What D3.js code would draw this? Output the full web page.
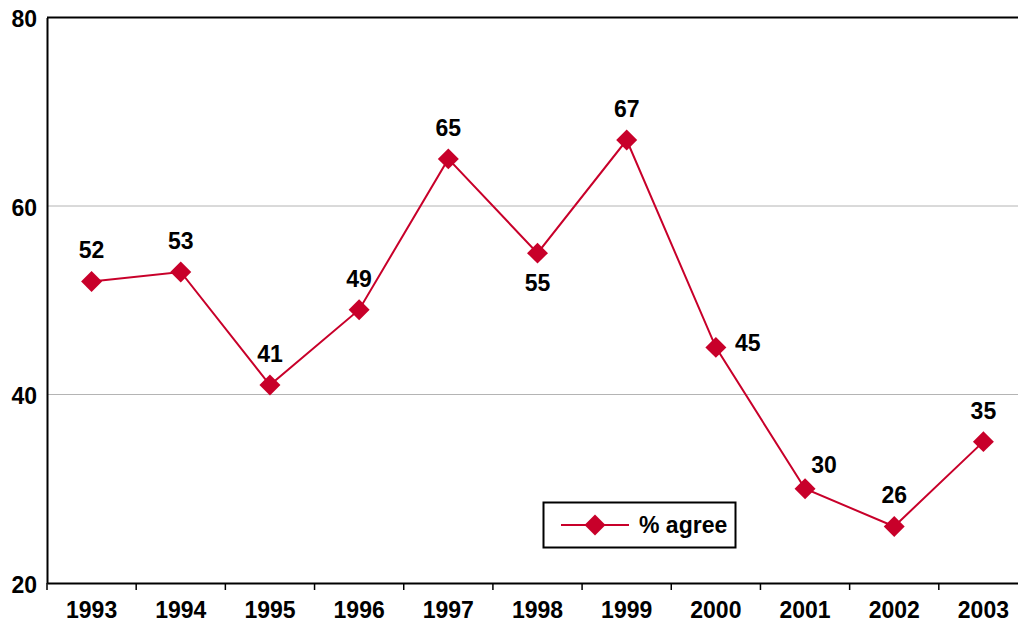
<!DOCTYPE html>
<html><head><meta charset="utf-8">
<script src="https://cdn.jsdelivr.net/npm/d3@7"></script>
<style>body{margin:0;background:#fff;} svg{display:block;font-family:"Liberation Sans",Arial,sans-serif;font-weight:bold;}</style>
</head><body>
<svg id="c" width="1018" height="624"></svg>
<script>
const years = ["1993","1994","1995","1996","1997","1998","1999","2000","2001","2002","2003"];
const agree = [52,53,41,49,65,55,67,45,30,26,35];
const yTicks = [20,40,60,80];
const seriesName = "% agree";
// label placement: 'a' above, 'b' below, 'r' right, 'ar' above-right
const labelPos = ["a","a","a","a","a","b","a","r","ar","a","a"];

const svg = d3.select("#c");
const color = "#c8002a";
const x = d3.scaleBand().domain(years).range([47, 1028]);
const y = d3.scaleLinear().domain([20,80]).range([583, 17.5]);

// gridlines
svg.append("g").selectAll("line").data(yTicks.filter(t=>t>20 && t<80)).join("line")
  .attr("x1",47).attr("x2",1018).attr("y1",d=>y(d)).attr("y2",d=>y(d))
  .attr("stroke","#b4b4b4").attr("stroke-width",1);

// top border
svg.append("line").attr("x1",47).attr("x2",1018).attr("y1",y(80)).attr("y2",y(80))
  .attr("stroke","#000").attr("stroke-width",2);

// y axis
const ya = svg.append("g").attr("transform","translate(47,0)")
  .call(d3.axisLeft(y).tickValues(yTicks).tickSize(0).tickPadding(10));
ya.select(".domain").attr("stroke","#000").attr("stroke-width",2);
ya.selectAll("text").attr("font-size",23).attr("font-family","Liberation Sans, Arial, sans-serif").attr("font-weight","bold").attr("fill","#000").attr("dy","0.4em");

// x axis
const xa = svg.append("g").attr("transform","translate(0,583)")
  .call(d3.axisBottom(x).tickSize(0).tickPadding(19));
xa.select(".domain").attr("stroke","#000").attr("stroke-width",2);
xa.selectAll("text").attr("font-size",23).attr("font-family","Liberation Sans, Arial, sans-serif").attr("font-weight","bold").attr("fill","#000");
// tick marks at band boundaries
const bounds = years.map(d=>x(d)).concat([x(years[years.length-1])+x.bandwidth()]);
svg.append("g").selectAll("line").data(bounds).join("line")
  .attr("x1",d=>d).attr("x2",d=>d).attr("y1",583).attr("y2",590)
  .attr("stroke","#000").attr("stroke-width",1.5);

const cx = d=>x(d)+x.bandwidth()/2;
const line = d3.line().x((d,i)=>cx(years[i])).y(d=>y(d));
svg.append("path").datum(agree).attr("d",line).attr("fill","none")
  .attr("stroke",color).attr("stroke-width",2);

const diamond = d3.symbol().type(d3.symbolSquare).size(220);
svg.append("g").selectAll("path").data(agree).join("path")
  .attr("d",diamond)
  .attr("transform",(d,i)=>`translate(${cx(years[i])},${y(d)}) rotate(45)`)
  .attr("fill",color);

const off = {a:[0,-31],b:[0,30],r:[32,-4],ar:[19,-24]};
svg.append("g").selectAll("text").data(agree).join("text")
  .attr("x",(d,i)=>cx(years[i])+off[labelPos[i]][0])
  .attr("y",(d,i)=>y(d)+off[labelPos[i]][1])
  .attr("text-anchor","middle").attr("dominant-baseline","central")
  .attr("font-size",23).attr("fill","#000").text(d=>d);

// legend
const lg = svg.append("g");
lg.append("rect").attr("x",543.5).attr("y",502.5).attr("width",192).attr("height",45)
  .attr("fill","#fff").attr("stroke","#000").attr("stroke-width",2);
lg.append("line").attr("x1",561).attr("x2",629).attr("y1",525).attr("y2",525)
  .attr("stroke",color).attr("stroke-width",2);
lg.append("path").attr("d",diamond).attr("transform","translate(595,525) rotate(45)").attr("fill",color);
lg.append("text").attr("x",639).attr("y",525).attr("dominant-baseline","central")
  .attr("font-size",23).attr("fill","#000").text(seriesName);
</script>
</body></html>
